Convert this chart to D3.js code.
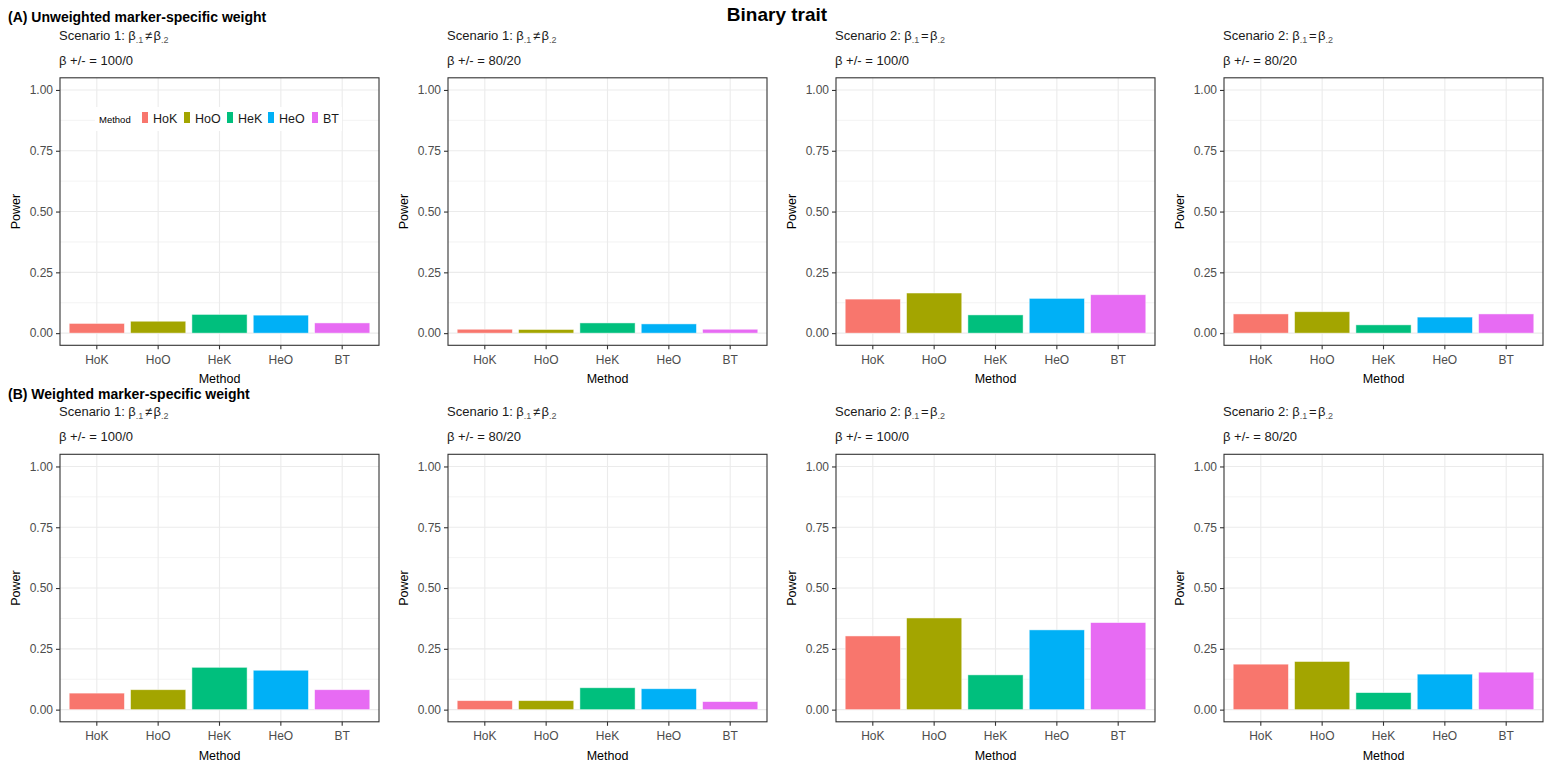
<!DOCTYPE html>
<html><head><meta charset="utf-8">
<script src="https://cdn.jsdelivr.net/npm/d3@7"></script>
<style>body{margin:0;background:#fff;} text{font-family:"Liberation Sans",Arial,sans-serif;}</style>
</head><body>
<svg id="c" width="1556" height="767"></svg>
<script>
const methods = ["HoK","HoO","HeK","HeO","BT"];
const methodColors = ["#F8766D","#A3A500","#00BF7D","#00B0F6","#E76BF3"];
const title = "Binary trait";
const rowLabels = ["(A) Unweighted marker-specific weight","(B) Weighted marker-specific weight"];
const scenarioNums = ["1","1","2","2"];
const scenarioOps = ["≠","≠","=","="];
const ratioLabels = ["100/0","80/20","100/0","80/20"];
const yTicks = [0,0.25,0.5,0.75,1];
const yMinor = [0.125,0.375,0.625,0.875];
// Row A (unweighted)
const powerA_S1_100 = [0.040,0.049,0.077,0.074,0.042];
const powerA_S1_80  = [0.016,0.015,0.042,0.038,0.016];
const powerA_S2_100 = [0.140,0.165,0.075,0.143,0.158];
const powerA_S2_80  = [0.079,0.088,0.034,0.066,0.079];
// Row B (weighted)
const powerB_S1_100 = [0.068,0.082,0.174,0.162,0.082];
const powerB_S1_80  = [0.037,0.037,0.090,0.086,0.033];
const powerB_S2_100 = [0.303,0.377,0.143,0.328,0.358];
const powerB_S2_80  = [0.187,0.198,0.070,0.146,0.154];
const rows = [[powerA_S1_100,powerA_S1_80,powerA_S2_100,powerA_S2_80],
              [powerB_S1_100,powerB_S1_80,powerB_S2_100,powerB_S2_80]];

const svg = d3.select("#c");
const panelLefts = [60,448,836,1224];
const panelW = 319;
const rowOff = [0,376.5];
const plotTop = 77.8, plotH = 267.5;

svg.append("text").attr("x",777).attr("y",21).attr("text-anchor","middle")
  .attr("font-size",19).attr("font-weight","bold").text(title);

rows.forEach((row,ri)=>{
  const off = rowOff[ri];
  svg.append("text").attr("x",8).attr("y",22+off).attr("font-size",14).attr("font-weight","bold").text(rowLabels[ri]);
  row.forEach((vals,pi)=>{
    const x0 = panelLefts[pi];
    const top = plotTop+off;
    const g = svg.append("g");
    const x = d3.scaleBand().domain(methods).range([x0,x0+panelW]).paddingInner(0.1).paddingOuter(0.15);
    const y = d3.scaleLinear().domain([-0.05,1.05]).range([top+plotH, top]);
    // subtitles
    const st = g.append("text").attr("x",x0-1).attr("y",39.5+off).attr("font-size",13).attr("fill","#1a1a1a");
    st.append("tspan").text("Scenario "+scenarioNums[pi]+": β");
    st.append("tspan").attr("font-size",9).attr("dy",3).attr("fill","#555").text(".1");
    st.append("tspan").attr("dy",-3).attr("dx",1.5).text(scenarioOps[pi]);
    st.append("tspan").attr("dx",1.5).text("β");
    st.append("tspan").attr("font-size",9).attr("dy",3).attr("fill","#555").text(".2");
    g.append("text").attr("x",x0-1).attr("y",64.5+off).attr("font-size",13).attr("fill","#1a1a1a").text("β +/- = "+ratioLabels[pi]);
    // panel bg
    g.append("rect").attr("x",x0).attr("y",top).attr("width",panelW).attr("height",plotH).attr("fill","#fff");
    // grids
    g.selectAll(".ymin").data(yMinor).join("line").attr("x1",x0).attr("x2",x0+panelW)
      .attr("y1",d=>y(d)).attr("y2",d=>y(d)).attr("stroke","#EBEBEB").attr("stroke-width",0.6);
    g.selectAll(".ymaj").data(yTicks).join("line").attr("x1",x0).attr("x2",x0+panelW)
      .attr("y1",d=>y(d)).attr("y2",d=>y(d)).attr("stroke","#EBEBEB").attr("stroke-width",1.1);
    g.selectAll(".xmaj").data(methods).join("line").attr("y1",top).attr("y2",top+plotH)
      .attr("x1",d=>x(d)+x.bandwidth()/2).attr("x2",d=>x(d)+x.bandwidth()/2).attr("stroke","#EBEBEB").attr("stroke-width",1.1);
    // bars
    g.selectAll(".bar").data(vals).join("rect")
      .attr("x",(d,i)=>x(methods[i])).attr("width",x.bandwidth())
      .attr("y",d=>y(d)).attr("height",d=>y(0)-y(d))
      .attr("fill",(d,i)=>methodColors[i]).attr("stroke","#ffffff").attr("stroke-opacity",0.6).attr("stroke-width",0.8);
    // border
    g.append("rect").attr("x",x0).attr("y",top).attr("width",panelW).attr("height",plotH)
      .attr("fill","none").attr("stroke","#333333").attr("stroke-width",1.1);
    // axes
    const ya = g.append("g").attr("transform",`translate(${x0},0)`)
      .call(d3.axisLeft(y).tickValues(yTicks).tickFormat(d3.format(".2f")).tickSize(4).tickPadding(3));
    ya.select(".domain").remove();
    ya.selectAll("line").attr("stroke","#333333").attr("stroke-width",1.1);
    ya.selectAll("text").attr("fill","#4D4D4D").attr("font-size",12).attr("font-family","Liberation Sans, Arial, sans-serif");
    const xa = g.append("g").attr("transform",`translate(0,${top+plotH})`)
      .call(d3.axisBottom(x).tickSize(4).tickPadding(6));
    xa.select(".domain").remove();
    xa.selectAll("line").attr("stroke","#333333").attr("stroke-width",1.1);
    xa.selectAll("text").attr("fill","#4D4D4D").attr("font-size",12).attr("font-family","Liberation Sans, Arial, sans-serif");
    // axis titles
    g.append("text").attr("x",x0+panelW/2).attr("y",383+off).attr("text-anchor","middle").attr("font-size",12.5).text("Method");
    g.append("text").attr("transform",`translate(${x0-40},${top+plotH/2}) rotate(-90)`).attr("text-anchor","middle").attr("font-size",12.5).text("Power");
    // legend
    if(ri===0 && pi===0){
      const lg = g.append("g");
      lg.append("rect").attr("x",95).attr("y",107).attr("width",247).attr("height",24).attr("fill","#fff");
      lg.append("text").attr("x",99).attr("y",123).attr("font-size",9.5).text("Method");
      const keyX = [142,184,227,268,312];
      methods.forEach((m,i)=>{
        lg.append("rect").attr("x",keyX[i]).attr("y",112).attr("width",6).attr("height",11).attr("fill",methodColors[i]);
        lg.append("text").attr("x",keyX[i]+11).attr("y",123).attr("font-size",12.5).attr("fill","#1a1a1a").text(m);
      });
    }
  });
});
</script>
</body></html>
